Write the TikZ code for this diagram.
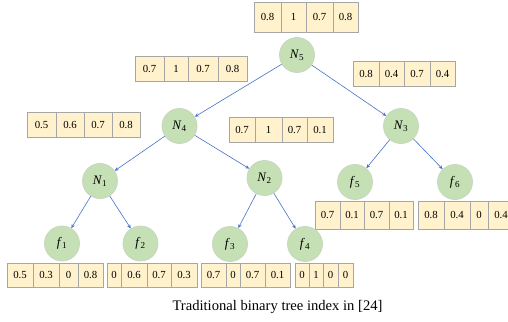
\documentclass[tikz,border=0pt]{standalone}
\usepackage{fontspec}
\setmainfont{Liberation Serif}
\usetikzlibrary{arrows.meta}
\definecolor{cellfill}{HTML}{FFF2CC}
\definecolor{cellline}{HTML}{A6A6A6}
\definecolor{nodefill}{HTML}{C5E0B4}
\definecolor{nodeline}{HTML}{C9D6C0}
\definecolor{arrowblue}{HTML}{4472C4}
\newcommand\cellrow[4]{%
  \foreach \a/\b/\t [count=\i] in {#4}{%
    \node[cell, minimum width={\b-\a}, minimum height={#3-#2}] (#1-\i) at ({(\a+\b)/2},{(#2+#3)/2}) {\t};
  }}
\begin{document}
\begin{tikzpicture}[x=1pt,y=-1pt,
  cell/.style={draw=cellline, fill=cellfill, line width=0.8pt, inner sep=0pt, font=\fontsize{10.8}{12}\selectfont},
  tnode/.style={circle, draw=nodeline, fill=nodefill, line width=0.8pt, minimum size=35pt, inner sep=0pt, font=\fontsize{13}{15}\selectfont},
  arr/.style={draw=arrowblue, line width=0.6pt, -{Stealth[length=4pt,width=3.5pt]}}]
\useasboundingbox (0,0) rectangle (508,321);
\begin{scope}
\clip (0,0) rectangle (508,321);
% value rows
\cellrow{r5}{2}{32}{254/281/0.8, 281/306/1, 306/333/0.7, 333/358/0.8}
\cellrow{r4}{56}{81}{135/164/0.7, 164/188/1, 188/218/0.7, 218/247/0.8}
\cellrow{r3}{61}{86}{353/379/0.8, 379/404/0.4, 404/430/0.7, 430/455/0.4}
\cellrow{r1}{112}{137}{27/56/0.5, 56/84/0.6, 84/112/0.7, 112/140/0.8}
\cellrow{r2}{117}{142}{229/255/0.7, 255/282/1, 282/307/0.7, 307/333/0.1}
\cellrow{rf5}{201}{229}{315/340/0.7, 340/364/0.1, 364/389/0.7, 389/413/0.1}
\cellrow{rf6}{201}{229}{418/444/0.8, 444/470/0.4, 470/488/0, 488/514/0.4}
\cellrow{rf1}{263}{287}{7/33/0.5, 33/59/0.3, 59/78/0, 78/103/0.8}
\cellrow{rf2}{263}{287}{107/121/0, 121/147/0.6, 147/171/0.7, 171/197/0.3}
\cellrow{rf3}{263}{287}{201/226/0.7, 226/240/0, 240/265/0.7, 265/290/0.1}
\cellrow{rf4}{263}{287}{295/309/0, 309/323/1, 323/338/0, 338/353/0}
\end{scope}
% tree nodes
\node[tnode] (N5) at (297,55) {\textit{N}\textsubscript{5}};
\node[tnode] (N4) at (179.5,126) {\textit{N}\textsubscript{4}};
\node[tnode] (N3) at (401,126) {\textit{N}\textsubscript{3}};
\node[tnode] (N1) at (100,181) {\textit{N}\textsubscript{1}};
\node[tnode] (N2) at (264.5,178) {\textit{N}\textsubscript{2}};
\node[tnode] (f5) at (355,182) {\textit{f}\textsubscript{5}};
\node[tnode] (f6) at (455,182) {\textit{f}\textsubscript{6}};
\node[tnode] (f1) at (62,243.5) {\textit{f}\textsubscript{1}};
\node[tnode] (f2) at (140.5,243.5) {\textit{f}\textsubscript{2}};
\node[tnode] (f3) at (230,244) {\textit{f}\textsubscript{3}};
\node[tnode] (f4) at (305,244) {\textit{f}\textsubscript{4}};
% connectors
\draw[arr] (N5) -- (N4);
\draw[arr] (N5) -- (N3);
\draw[arr] (N4) -- (N1);
\draw[arr] (N4) -- (N2);
\draw[arr] (N1) -- (f1);
\draw[arr] (N1) -- (f2);
\draw[arr] (N2) -- (f3);
\draw[arr] (N2) -- (f4);
\draw[arr] (N3) -- (f5);
\draw[arr] (N3) -- (f6);
% caption
\node[font=\fontsize{14.6}{17}\selectfont] (cap) at (277.5,307) {Traditional binary tree index in [24]};
\end{tikzpicture}
\end{document}
